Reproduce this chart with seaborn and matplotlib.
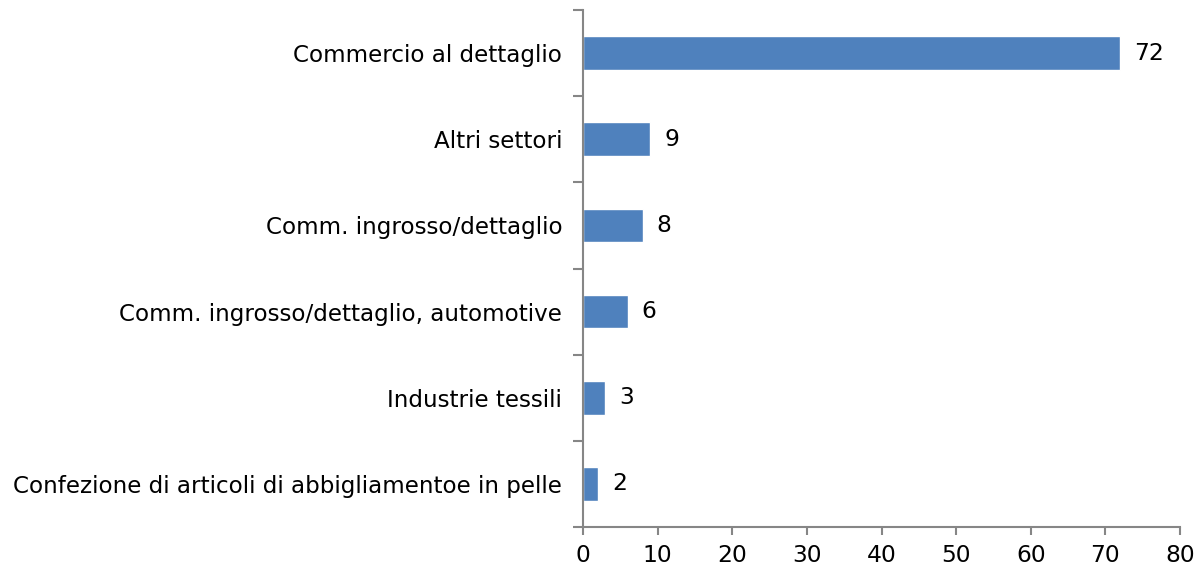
import matplotlib
matplotlib.use("Agg")
import matplotlib.pyplot as plt
import seaborn as sns
import pandas as pd

categories = [
    "Commercio al dettaglio",
    "Altri settori",
    "Comm. ingrosso/dettaglio",
    "Comm. ingrosso/dettaglio, automotive",
    "Industrie tessili",
    "Confezione di articoli di abbigliamentoe in pelle",
]
values = [72, 9, 8, 6, 3, 2]
xticks = [0, 10, 20, 30, 40, 50, 60, 70, 80]

sns.set_theme(style="white")
plt.rcParams["font.family"] = ["DejaVu Sans"]

df = pd.DataFrame({"cat": categories, "val": values})

fig = plt.figure(figsize=(12.01, 5.71), dpi=100)
ax = fig.add_axes([583 / 1201, 1 - 527 / 571, (1180 - 583) / 1201, (527 - 10) / 571])

sns.barplot(data=df, x="val", y="cat", orient="h", color="#4F81BD", saturation=1,
            width=0.39, ax=ax)

ax.set_xlim(0, 80)
ax.set_ylim(5.5, -0.5)
ax.set_xticks(xticks)
ax.set_xticklabels([str(t) for t in xticks])
ax.set_yticks(range(len(categories)))
ax.set_yticklabels(categories)
ax.set_yticks([i - 0.5 for i in range(len(categories) + 1)], minor=True)
ax.set_xlabel("")
ax.set_ylabel("")

for s in ["top", "right"]:
    ax.spines[s].set_visible(False)
for s in ["left", "bottom"]:
    ax.spines[s].set_color("#868686")
    ax.spines[s].set_linewidth(1.5)

ax.tick_params(axis="y", which="major", length=0, labelsize=16.6, pad=15, colors="#000000")
ax.tick_params(axis="y", which="minor", length=7, width=1.5, color="#868686", left=True)
ax.tick_params(axis="x", which="major", length=6, width=1.5, color="#868686", bottom=True,
               labelsize=16.8, pad=6)
for lbl in ax.get_xticklabels() + ax.get_yticklabels():
    lbl.set_color("#000000")

for i, v in enumerate(values):
    ax.annotate(str(v), xy=(v, i), xytext=(14, 0), textcoords="offset pixels",
                va="center", ha="left", fontsize=16.8, color="#000000")

fig.savefig("out.png", dpi=100)
